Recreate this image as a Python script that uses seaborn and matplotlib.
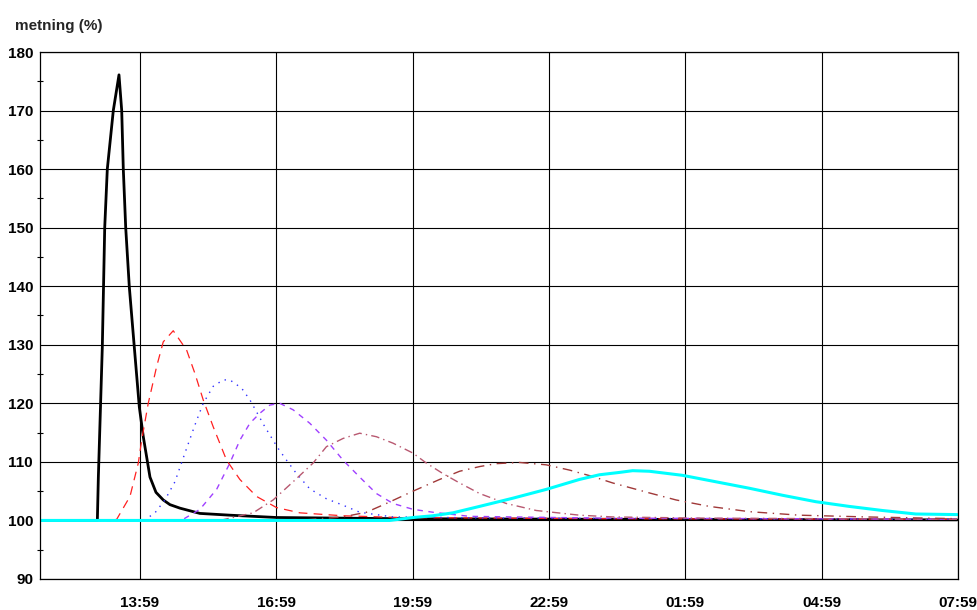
import matplotlib
matplotlib.use("Agg")
import matplotlib.pyplot as plt
from matplotlib.ticker import MultipleLocator, FixedLocator
import seaborn as sns
import pandas as pd

# time in hours after 11:59
x_ticks = [2, 5, 8, 11, 14, 17, 20]
x_labels = ["13:59", "16:59", "19:59", "22:59", "01:59", "04:59", "07:59"]
y_ticks = [90, 100, 110, 120, 130, 140, 150, 160, 170, 180]
y_label = "metning (%)"

black_t = [-0.2, 1.062, 1.084, 1.171, 1.224, 1.281, 1.413, 1.538, 1.598, 1.633, 1.686, 1.765,
           1.875, 1.985, 2.073, 2.220, 2.352, 2.512, 2.659, 2.879, 3.319, 3.978, 5.011, 7.714,
           12.11, 19.98]
black_v = [100.0, 100.0, 107.4, 129.6, 150.0, 160.0, 170.0, 176.1, 170.0, 160.0, 150.0, 139.9,
           129.6, 119.4, 114.3, 107.4, 104.8, 103.5, 102.7, 102.1, 101.2, 100.9, 100.5, 100.3,
           100.2, 100.1]

red_t = [-0.2, 1.40, 1.488, 1.780, 1.963, 2.037, 2.182, 2.367, 2.512, 2.732, 3.026, 3.209, 3.391,
         3.611, 3.905, 4.198, 4.565, 5.004, 5.516, 6.462, 7.714, 12.11, 19.98]
red_v = [100.0, 100.0, 100.2, 104.1, 109.8, 113.7, 120.0, 126.3, 130.5, 132.4, 129.1, 125.1, 120.6,
         116.0, 110.3, 107.0, 104.1, 102.2, 101.3, 100.8, 100.5, 100.3, 100.2]

blue_t = [-0.2, 2.10, 2.182, 2.330, 2.549, 2.769, 2.989, 3.209, 3.391, 3.611, 3.831, 3.978, 4.235,
          4.418, 4.747, 5.040, 5.224, 5.444, 5.736, 6.103, 6.468, 6.835, 7.560, 9.912, 19.98]
blue_v = [100.0, 100.0, 100.5, 101.3, 103.5, 106.6, 111.5, 116.3, 120.0, 122.9, 124.0, 124.0, 122.6,
          120.6, 116.0, 112.3, 110.3, 108.0, 105.4, 103.7, 102.6, 101.4, 100.6, 100.4, 100.2]

purple_t = [-0.2, 2.85, 2.952, 3.319, 3.686, 3.978, 4.198, 4.418, 4.637, 4.857, 5.077, 5.369, 5.736,
            6.103, 6.468, 6.835, 7.202, 7.567, 8.007, 8.446, 9.253, 12.11, 19.98]
purple_v = [100.0, 100.0, 100.2, 101.9, 105.3, 109.8, 113.7, 116.6, 118.3, 119.7, 120.0, 118.9, 116.6,
            113.7, 110.3, 107.4, 104.6, 102.9, 101.9, 101.4, 100.7, 100.4, 100.2]

rosy_t = [-0.2, 3.758, 4.044, 4.490, 4.930, 5.369, 5.809, 6.103, 6.468, 6.835, 7.202, 7.567, 8.007,
          8.301, 8.666, 9.033, 9.473, 10.059, 10.719, 11.670, 12.396, 14.308, 19.98]
rosy_v = [100.0, 100.0, 100.5, 101.3, 103.5, 106.6, 109.8, 112.6, 114.0, 114.9, 114.3, 113.2, 111.5,
          109.8, 108.0, 106.4, 104.6, 102.9, 101.7, 100.9, 100.6, 100.4, 100.2]

darkred_t = [-0.2, 5.50, 5.956, 6.462, 6.982, 7.422, 8.007, 8.593, 9.033, 9.473, 9.840, 10.352,
             10.938, 11.451, 11.963, 12.403, 13.209, 13.796, 14.527, 15.407, 16.505, 17.971, 19.978]
darkred_v = [100.0, 100.0, 100.3, 100.6, 101.4, 102.9, 105.0, 107.0, 108.4, 109.2, 109.7, 109.9,
             109.5, 108.6, 107.5, 106.4, 104.7, 103.5, 102.4, 101.5, 100.9, 100.6, 100.3]

cyan_t = [-0.2, 7.495, 8.007, 8.446, 8.886, 9.473, 10.205, 10.938, 11.670, 12.110, 12.549, 12.842,
          13.209, 13.941, 14.675, 15.407, 16.138, 16.872, 17.604, 18.336, 19.070, 19.985]
cyan_v = [100.0, 100.0, 100.5, 100.8, 101.3, 102.4, 103.8, 105.3, 107.0, 107.8, 108.2, 108.5,
          108.4, 107.7, 106.6, 105.5, 104.3, 103.2, 102.4, 101.7, 101.1, 101.0]

sns.set_style("white")
plt.rcParams["font.family"] = ["Liberation Sans", "DejaVu Sans"]

fig = plt.figure(figsize=(9.78, 6.10), dpi=100)
ax = fig.add_axes([40 / 978, 1 - 579 / 610, 918 / 978, 527 / 610])

series = [
    (black_t, black_v, dict(color="#000000", lw=2.0, linestyle="-")),
    (red_t, red_v, dict(color="#FF2020", lw=0.9, linestyle=(0, (7, 5)))),
    (blue_t, blue_v, dict(color="#3030FF", lw=1.0, linestyle=(0, (1, 4)))),
    (purple_t, purple_v, dict(color="#A040FF", lw=1.0, linestyle=(0, (4, 4)))),
    (rosy_t, rosy_v, dict(color="#B85870", lw=1.0, linestyle=(0, (6, 3, 1, 3)))),
    (darkred_t, darkred_v, dict(color="#A03838", lw=1.0, linestyle=(0, (7, 4, 1, 4)))),
    (cyan_t, cyan_v, dict(color="#00FFFF", lw=2.2, linestyle="-")),
]
for t, v, style in series:
    df = pd.DataFrame({"t": t, "v": v})
    sns.lineplot(data=df, x="t", y="v", ax=ax, estimator=None, sort=False, **style)

ax.set_xlim(-0.2, 20)
ax.set_ylim(90, 180)
ax.set_xlabel("")
ax.set_ylabel("")
ax.xaxis.set_major_locator(FixedLocator(x_ticks))
ax.set_xticklabels(x_labels)
ax.yaxis.set_major_locator(FixedLocator(y_ticks))
ax.yaxis.set_minor_locator(MultipleLocator(5))
ax.grid(True, which="major", color="black", lw=0.8)
ax.set_axisbelow(True)
for s in ax.spines.values():
    s.set_color("black")
    s.set_linewidth(0.9)
ax.tick_params(axis="both", which="major", direction="out", length=3, width=0.8, color="black",
               labelsize=11, labelcolor="black")
ax.tick_params(axis="x", which="major", pad=9)
ax.tick_params(axis="y", which="major", pad=2)
ax.tick_params(axis="y", which="minor", direction="inout", length=5, width=0.8, color="black", left=True)
for lab in ax.get_xticklabels() + ax.get_yticklabels():
    lab.set_fontweight("bold")

fig.text(15 / 978, 1 - 26 / 610, y_label, ha="left", va="center", fontsize=11, fontweight="bold")

fig.savefig("out.png", dpi=100)
